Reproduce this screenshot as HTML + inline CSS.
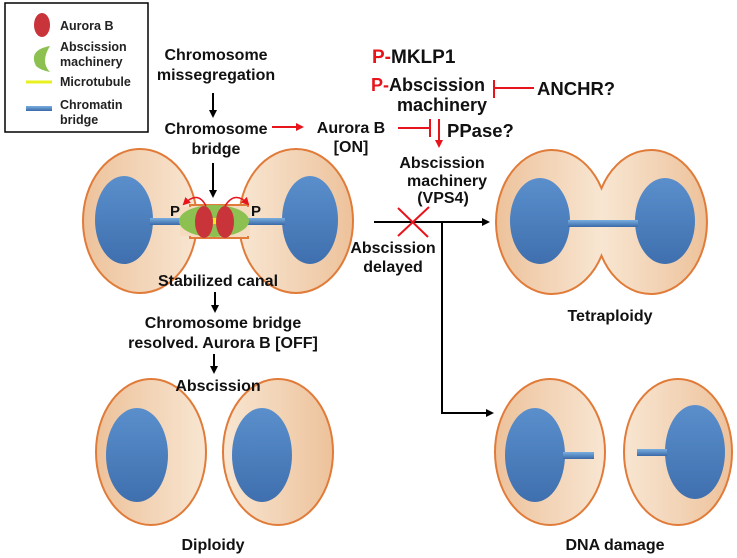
<!DOCTYPE html>
<html><head><meta charset="utf-8"><style>
html,body{margin:0;padding:0;background:#fff;}
svg{display:block;font-family:"Liberation Sans",Arial,sans-serif;font-weight:bold;}
</style></head><body>
<svg width="737" height="558" viewBox="0 0 737 558" xmlns="http://www.w3.org/2000/svg">
<defs>
<linearGradient id="cellL" x1="0" x2="1" y1="0" y2="0"><stop offset="0" stop-color="#edc29b"/><stop offset="1" stop-color="#f8e6d2"/></linearGradient>
<linearGradient id="cellR" x1="0" x2="1" y1="0" y2="0"><stop offset="0" stop-color="#f8e6d2"/><stop offset="1" stop-color="#edc29b"/></linearGradient>
<linearGradient id="cellM" x1="0" x2="1" y1="0" y2="0"><stop offset="0" stop-color="#edc29b"/><stop offset="0.5" stop-color="#f8e6d2"/><stop offset="1" stop-color="#edc29b"/></linearGradient>
<linearGradient id="nuc" x1="0" x2="0" y1="0" y2="1"><stop offset="0" stop-color="#5a8fcc"/><stop offset="1" stop-color="#3f6fae"/></linearGradient>
<linearGradient id="bar" x1="0" x2="0" y1="0" y2="1"><stop offset="0" stop-color="#7aaee0"/><stop offset="1" stop-color="#3a6aa8"/></linearGradient>
<marker id="ab" markerWidth="8" markerHeight="8" refX="6" refY="4" orient="auto" markerUnits="userSpaceOnUse"><path d="M0,0 L8,4 L0,8 z" fill="#000"/></marker>
<marker id="ar" markerWidth="8" markerHeight="8" refX="6" refY="4" orient="auto" markerUnits="userSpaceOnUse"><path d="M0,0 L8,4 L0,8 z" fill="#e8141c"/></marker>
</defs>

<!-- Legend -->
<rect x="5" y="3" width="143" height="129" fill="#fff" stroke="#000" stroke-width="1.5"/>
<ellipse cx="42" cy="25" rx="8" ry="12" fill="#c8343a"/>
<path d="M50,46 Q28,50 36,66 Q40,70 50,72 Q40,62 50,46z" fill="#8cc152"/>
<line x1="26" y1="82" x2="52" y2="82" stroke="#e8f020" stroke-width="3"/>
<rect x="26" y="106" width="26" height="5" fill="url(#bar)"/>
<g font-size="12.5" fill="#222">
<text x="60" y="30">Aurora B</text>
<text x="60" y="51">Abscission</text>
<text x="60" y="66">machinery</text>
<text x="60" y="86">Microtubule</text>
<text x="60" y="109">Chromatin</text>
<text x="60" y="124">bridge</text>
</g>

<!-- left flow -->
<g font-size="16" fill="#111" text-anchor="middle">
<text x="216" y="60">Chromosome</text>
<text x="216" y="80">missegregation</text>
<text x="216" y="134">Chromosome</text>
<text x="216" y="154">bridge</text>
</g>
<line x1="213" y1="93" x2="213" y2="116" stroke="#000" stroke-width="2" marker-end="url(#ab)"/>
<line x1="213" y1="163" x2="213" y2="196" stroke="#000" stroke-width="2" marker-end="url(#ab)"/>
<line x1="272" y1="127" x2="302" y2="127" stroke="#e8141c" stroke-width="2" marker-end="url(#ar)"/>
<g font-size="16" fill="#111" text-anchor="middle">
<text x="351" y="133">Aurora B</text>
<text x="351" y="152">[ON]</text>
</g>

<!-- dividing cell -->
<ellipse cx="140" cy="221" rx="57" ry="72" fill="url(#cellL)" stroke="#e07b39" stroke-width="2"/>
<ellipse cx="296" cy="221" rx="57" ry="72" fill="url(#cellR)" stroke="#e07b39" stroke-width="2"/>
<rect x="190" y="205" width="58" height="33" fill="#f5dcc0" stroke="#e07b39" stroke-width="2"/>
<rect x="180" y="207" width="70" height="29" fill="#f5dcc0"/>
<ellipse cx="124" cy="220" rx="29" ry="44" fill="url(#nuc)"/>
<ellipse cx="310" cy="220" rx="28" ry="44" fill="url(#nuc)"/>
<rect x="150" y="218" width="135" height="7" fill="url(#bar)"/>
<ellipse cx="214" cy="221" rx="35" ry="16" fill="#8cc152"/>
<line x1="205" y1="221" x2="223" y2="221" stroke="#e8f020" stroke-width="6"/>
<ellipse cx="204" cy="222" rx="9" ry="16" fill="#c8343a"/>
<ellipse cx="225" cy="222" rx="9" ry="16" fill="#c8343a"/>
<path d="M206,206 Q198,190 184,204" fill="none" stroke="#e8141c" stroke-width="1.5" marker-end="url(#ar)"/>
<path d="M225,206 Q235,190 248,204" fill="none" stroke="#e8141c" stroke-width="1.5" marker-end="url(#ar)"/>
<text x="170" y="216" font-size="15" fill="#111">P</text>
<text x="251" y="216" font-size="15" fill="#111">P</text>

<!-- diploidy cells -->
<ellipse cx="151" cy="452" rx="55" ry="73" fill="url(#cellL)" stroke="#e07b39" stroke-width="2"/>
<ellipse cx="278" cy="452" rx="55" ry="73" fill="url(#cellR)" stroke="#e07b39" stroke-width="2"/>
<ellipse cx="137" cy="455" rx="31" ry="47" fill="url(#nuc)"/>
<ellipse cx="262" cy="455" rx="30" ry="47" fill="url(#nuc)"/>

<g font-size="16" fill="#111" text-anchor="middle">
<text x="218" y="286">Stabilized canal</text>
<text x="223" y="328">Chromosome bridge</text>
<text x="223" y="348">resolved. Aurora B [OFF]</text>
<text x="218" y="391">Abscission</text>
<text x="213" y="550">Diploidy</text>
<text x="610" y="321">Tetraploidy</text>
<text x="615" y="550">DNA damage</text>
</g>
<line x1="215" y1="292" x2="215" y2="311" stroke="#000" stroke-width="2" marker-end="url(#ab)"/>
<line x1="214" y1="354" x2="214" y2="372" stroke="#000" stroke-width="2" marker-end="url(#ab)"/>

<!-- right top -->
<g fill="#111">
<text x="372" y="63" font-size="19"><tspan fill="#e8141c">P-</tspan>MKLP1</text>
<text x="371" y="91" font-size="18"><tspan fill="#e8141c">P-</tspan>Abscission</text>
<text x="397" y="111" font-size="18">machinery</text>
<text x="537" y="95" font-size="18.5">ANCHR?</text>
<text x="447" y="137" font-size="18.5">PPase?</text>
</g>
<line x1="494" y1="80" x2="494" y2="98" stroke="#e8141c" stroke-width="2"/>
<line x1="494" y1="88" x2="534" y2="88" stroke="#e8141c" stroke-width="2"/>
<line x1="398" y1="128" x2="430" y2="128" stroke="#e8141c" stroke-width="2"/>
<line x1="430" y1="119" x2="430" y2="137" stroke="#e8141c" stroke-width="2"/>
<line x1="439" y1="119" x2="439" y2="146" stroke="#e8141c" stroke-width="2" marker-end="url(#ar)"/>
<g font-size="16" fill="#111" text-anchor="middle">
<text x="442" y="168">Abscission</text>
<text x="447" y="186">machinery</text>
<text x="443" y="203">(VPS4)</text>
<text x="393" y="253">Abscission</text>
<text x="393" y="272">delayed</text>
</g>
<line x1="374" y1="222" x2="488" y2="222" stroke="#000" stroke-width="2" marker-end="url(#ab)"/>
<polyline points="442,222 442,413 492,413" fill="none" stroke="#000" stroke-width="2" marker-end="url(#ab)"/>
<line x1="398" y1="208" x2="428" y2="237" stroke="#e8141c" stroke-width="2"/>
<line x1="429" y1="207" x2="398" y2="236" stroke="#e8141c" stroke-width="2"/>

<!-- tetraploidy -->
<path d="M601.5,188.3 A56,72 0 1,0 601.5,255.7 A56,72 0 1,0 601.5,188.3 Z" fill="url(#cellM)" stroke="#e07b39" stroke-width="2"/>
<ellipse cx="540" cy="221" rx="30" ry="43" fill="url(#nuc)"/>
<ellipse cx="665" cy="221" rx="30" ry="43" fill="url(#nuc)"/>
<rect x="568" y="220" width="70" height="7" fill="url(#bar)"/>

<!-- DNA damage -->
<ellipse cx="550" cy="452" rx="55" ry="73" fill="url(#cellL)" stroke="#e07b39" stroke-width="2"/>
<ellipse cx="678" cy="452" rx="54" ry="73" fill="url(#cellR)" stroke="#e07b39" stroke-width="2"/>
<ellipse cx="535" cy="455" rx="30" ry="47" fill="url(#nuc)"/>
<ellipse cx="695" cy="452" rx="30" ry="47" fill="url(#nuc)"/>
<rect x="563" y="452" width="31" height="7" fill="url(#bar)"/>
<rect x="637" y="449" width="30" height="7" fill="url(#bar)"/>
</svg>
</body></html>
